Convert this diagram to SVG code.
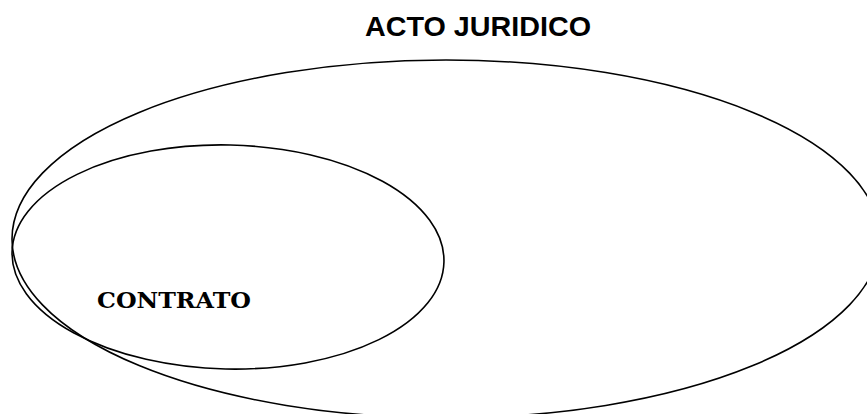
<svg xmlns="http://www.w3.org/2000/svg" width="867" height="414" viewBox="0 0 867 414">
<style>
.e{fill:none;stroke:#000;stroke-width:1.6}
.t1{font-family:"Liberation Sans",Arial,sans-serif;font-weight:bold;font-size:28px;fill:#000}
.t2{font-family:"DejaVu Serif","Liberation Serif",serif;font-weight:bold;font-size:22px;fill:#000}
</style>
<rect width="867" height="414" fill="#fff"/>
<g id="acto-juridico">
<ellipse class="e" cx="446" cy="239" rx="434" ry="179"/>
<text class="t1" x="365" y="36" textLength="226" lengthAdjust="spacingAndGlyphs">ACTO JURIDICO</text>
</g>
<g id="contrato">
<ellipse class="e" cx="228" cy="257" rx="216" ry="112" transform="rotate(1.3 228 257)"/>
<text class="t2" x="97" y="308" textLength="154" lengthAdjust="spacingAndGlyphs">CONTRATO</text>
</g>
<g id="connectors"/>
</svg>
